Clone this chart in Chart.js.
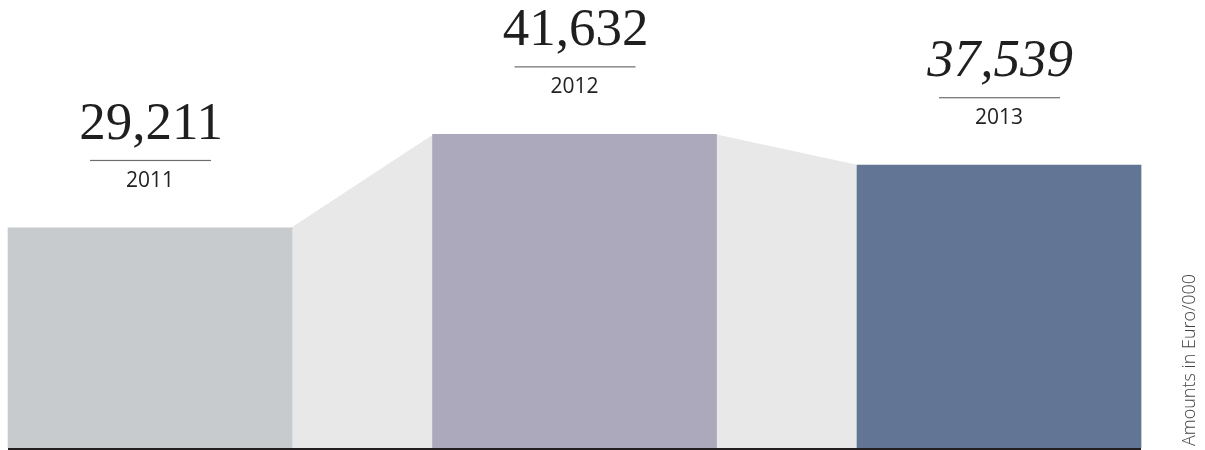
<!DOCTYPE html>
<html lang="en">

<head>
    <meta charset="UTF-8">
    <title>Amounts in Euro/000</title>
    <script src="https://cdn.jsdelivr.net/npm/chart.js@4/dist/chart.umd.min.js"></script>
    <style>
        * {
            margin: 0;
            padding: 0;
            box-sizing: border-box;
        }

        body {
            background: #fff;
        }

        .chart-container {
            position: relative;
            width: 1205px;
            height: 450px;
        }
    </style>
</head>

<body>
    <div class="chart-container">
        <canvas id="amountsChart"></canvas>
    </div>

    <script>
        // Data
        const years = ['2011', '2012', '2013'];
        const amounts = [29211, 41632, 37539];
        const positions = [0, 1, 2];
        const barColors = ['#c7cbce', '#aca9bc', '#627594'];

        // connectors between bars, value labels and the baseline
        const decorations = {
            id: 'decorations',
            beforeDatasetsDraw(chart) {
                const ctx = chart.ctx;
                const bars = chart.getDatasetMeta(0).data;
                ctx.save();
                ctx.fillStyle = '#e8e8e8';
                for (let i = 0; i < bars.length - 1; i++) {
                    const a = bars[i], b = bars[i + 1];
                    const ax = a.x + a.width / 2;
                    const bx = b.x - b.width / 2;
                    ctx.beginPath();
                    ctx.moveTo(ax - 1, a.y);
                    ctx.lineTo(bx + 1, b.y);
                    ctx.lineTo(bx + 1, b.base);
                    ctx.lineTo(ax - 1, a.base);
                    ctx.closePath();
                    ctx.fill();
                }
                ctx.restore();
            },
            afterDatasetsDraw(chart) {
                const ctx = chart.ctx;
                const bars = chart.getDatasetMeta(0).data;
                ctx.save();
                ctx.textAlign = 'center';
                ctx.textBaseline = 'alphabetic';
                bars.forEach((bar, i) => {
                    // big number
                    ctx.fillStyle = '#1f1f1f';
                    ctx.font = (i === 2 ? 'italic ' : '') + '53px "Liberation Serif", serif';
                    ctx.fillText(amounts[i].toLocaleString('en-US'), bar.x + 1, bar.y - 89);
                    // rule
                    ctx.fillStyle = '#6e6e6e';
                    ctx.fillRect(bar.x - 60, bar.y - 68, 121, 1.2);
                    // year
                    ctx.fillStyle = '#222';
                    ctx.font = '21px "Open Sans", sans-serif';
                    ctx.fillText(years[i], bar.x, bar.y - 41);
                });

                // baseline
                const first = bars[0], last = bars[bars.length - 1];
                ctx.fillStyle = '#231f20';
                const left = first.x - first.width / 2;
                ctx.fillRect(left, first.base, last.x + last.width / 2 - left, 2.5);

                // unit note
                ctx.translate(1190, 360);
                ctx.rotate(-Math.PI / 2);
                ctx.fillStyle = '#444';
                ctx.font = '300 18px "Open Sans", sans-serif';
                ctx.textBaseline = 'middle';
                ctx.fillText('Amounts in Euro/000', 0, 0);
                ctx.restore();
            }
        };

        const ctx = document.getElementById('amountsChart').getContext('2d');
        new Chart(ctx, {
            type: 'bar',
            data: {
                datasets: [{
                    data: positions.map((p, i) => ({ x: p, y: amounts[i] })),
                    backgroundColor: barColors,
                    borderWidth: 0,
                    barThickness: 284
                }]
            },
            options: {
                responsive: true,
                maintainAspectRatio: false,
                animation: false,
                layout: {
                    padding: { top: 0, bottom: 2, left: 0, right: 0 }
                },
                plugins: {
                    legend: { display: false },
                    tooltip: { enabled: false }
                },
                scales: {
                    x: {
                        type: 'linear',
                        display: false,
                        offset: false,
                        min: -0.3534,
                        max: 2.4852
                    },
                    y: {
                        display: false,
                        min: 0,
                        max: 59450
                    }
                }
            },
            plugins: [decorations]
        });
    </script>
</body>

</html>
